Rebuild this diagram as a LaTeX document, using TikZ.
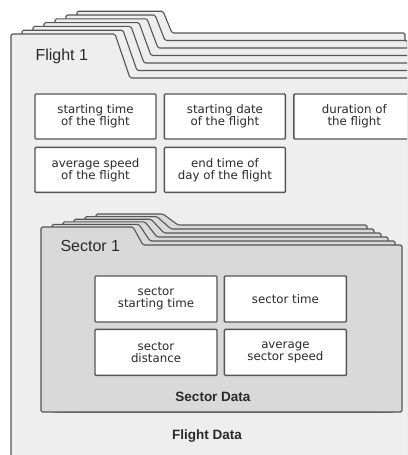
\documentclass[tikz,border=0pt]{standalone}
\usepackage{fontspec}
\setmainfont{Liberation Sans}
\newfontfamily\boxfont{DejaVu Sans}
\usetikzlibrary{positioning}
\definecolor{linegray}{HTML}{555555}
\definecolor{flightgray}{HTML}{EEEEEE}
\definecolor{sectorgray}{HTML}{D9D9D9}
\definecolor{inkgray}{HTML}{2A2A2A}
\tikzset{
  layer/.style={draw=linegray, line width=1.1pt, rounded corners=1.5pt, line join=round},
  flightlayer/.style={layer, fill=flightgray},
  sectorlayer/.style={layer, fill=sectorgray},
  databox/.style={draw=linegray, line width=1.4pt, fill=white, rounded corners=1pt,
    minimum width=121pt, minimum height=45pt, inner sep=0pt, align=center,
    font=\boxfont\fontsize{11.8}{12}\selectfont, text=inkgray},
  foldertitle/.style={font=\fontsize{16}{18}\selectfont, text=inkgray, anchor=west},
  foldercaption/.style={font=\fontsize{13.5}{15}\selectfont\bfseries, text=inkgray}
}
\begin{document}
\begin{tikzpicture}[x=1pt,y=-1pt]
\useasboundingbox (0,0) rectangle (407,455);
\fill[white] (0,0) rectangle (407,455);
\clip (0,0) rectangle (407,455);
\foreach \i in {6,...,1} {
  \draw[flightlayer] ({11+11*\i},470) -- ({11+11*\i},{34-3.8*\i}) -- ({115+8*\i},{34-3.8*\i})
    -- ({130+7*\i},{78-7.5*\i}) -- ({420-2.5*\i},{78-7.5*\i}) -- ({420-2.5*\i},470) -- cycle;
}
\draw[flightlayer] (11,470) -- (11,34) -- (115,34) -- (130,78) -- (420,78) -- (420,470) -- cycle;
\node[foldertitle] (flighttitle) at (32,56) {Flight 1};
\node[databox] (starttime) at (95.5,116.5) {starting time\\of the flight};
\node[databox, right=7pt of starttime] (startdate) {starting date\\of the flight};
\node[databox, right=7pt of startdate] (duration) {duration of\\the flight};
\node[databox, below=7pt of starttime] (avgspeed) {average speed\\of the flight};
\node[databox, below=7pt of startdate] (endtime) {end time of\\day of the flight};
\foreach \i in {5,...,1} {
  \draw[sectorlayer] ({41+11*\i},412) -- ({41+11*\i},{227-2.6*\i}) -- ({133+6*\i},{227-2.6*\i})
    -- ({143+7*\i},{245-4*\i}) -- ({402-7*\i},{245-4*\i}) -- ({402-7*\i},412) -- cycle;
}
\draw[sectorlayer] (41,412) -- (41,227) -- (133,227) -- (143,245) -- (402,245) -- (402,412) -- cycle;
\node[foldertitle] (sectortitle) at (57,246) {Sector 1};
\node[databox, minimum width=122pt, minimum height=46pt] (secstart) at (156,299) {sector\\starting time};
\node[databox, minimum width=122pt, minimum height=46pt, right=6pt of secstart] (sectime) {sector time};
\node[databox, minimum width=122pt, minimum height=46pt, below=6pt of secstart] (secdist) {sector\\distance};
\node[databox, minimum width=122pt, minimum height=46pt, below=6pt of sectime] (secspeed) {average\\sector speed};
\node[foldercaption] (sectordata) at (213,397) {Sector Data};
\node[foldercaption] (flightdata) at (207,436) {Flight Data};
\end{tikzpicture}
\end{document}
